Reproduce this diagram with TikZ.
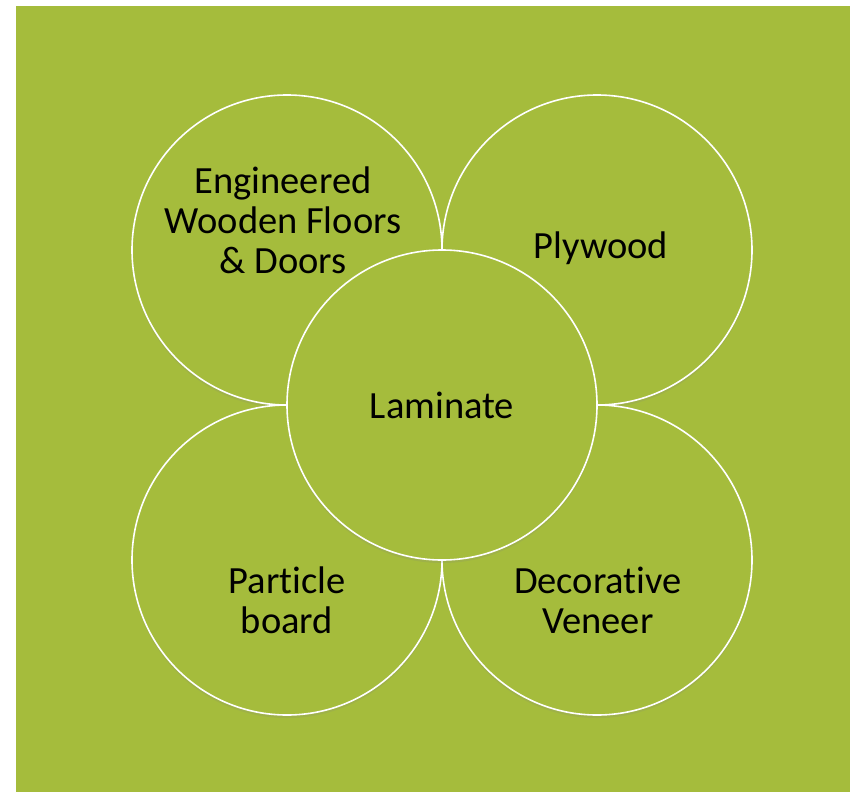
\documentclass[tikz,border=0pt]{standalone}
\usepackage{fontspec}
\setmainfont{Carlito}[Ligatures=NoCommon]
\usetikzlibrary{shadows}
\definecolor{leaf}{RGB}{165,188,60}
\begin{document}
\begin{tikzpicture}[x=1pt,y=-1pt,
  petal/.style={circle,draw=white,line width=1.6pt,fill=leaf,minimum size=310pt,inner sep=0pt,
    drop shadow={opacity=0.18,shadow xshift=0pt,shadow yshift=-3pt}},
  lbl/.style={align=center,font=\fontsize{38.5}{40}\selectfont,text=black,inner sep=0pt}]
\useasboundingbox (0,0) rectangle (850,792);
\fill[leaf] (16,6) rectangle (850,792);
\node[petal] (tl) at (287,250) {};
\node[petal] (tr) at (597,250) {};
\node[petal] (bl) at (287,560) {};
\node[petal] (br) at (597,560) {};
\node[petal] (c) at (442,405) {};
\node[lbl] (tlt) at (283,220) {Engineered\\Wooden Floors\\\& Doors};
\node[lbl] (trt) at (601,248) {Plywood};
\node[lbl] (ct) at (442,405) {Laminate};
\node[lbl] (blt) at (287,600) {Particle\\board};
\node[lbl] (brt) at (598,600) {Decorative\\Veneer};
\end{tikzpicture}
\end{document}
